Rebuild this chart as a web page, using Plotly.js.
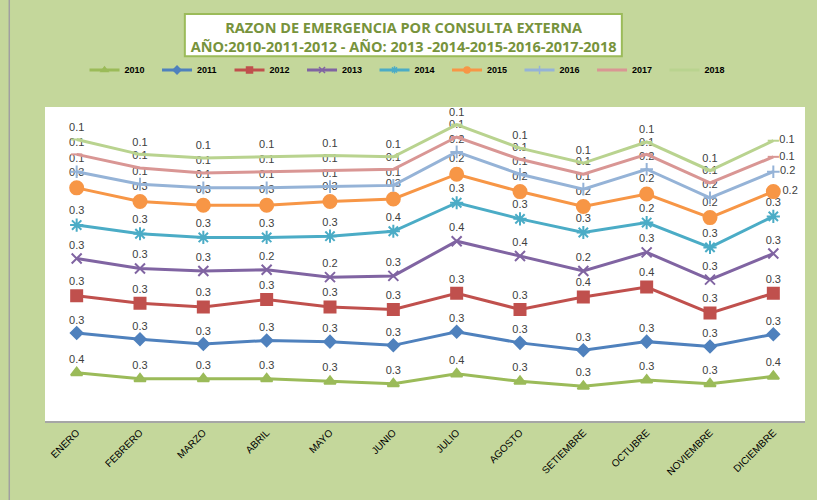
<!DOCTYPE html>
<html>
<head>
<meta charset="utf-8">
<script src="https://cdn.plot.ly/plotly-3.0.1.min.js"></script>
<style>html,body{margin:0;padding:0;background:#c4d79b;}#chart{width:817px;height:500px;}</style>
</head>
<body>
<div id="chart"></div>
<script>
const months = ["ENERO","FEBRERO","MARZO","ABRIL","MAYO","JUNIO","JULIO","AGOSTO","SETIEMBRE","OCTUBRE","NOVIEMBRE","DICIEMBRE"];
const years = ["2010","2011","2012","2013","2014","2015","2016","2017","2018"];

const v2010 = [0.39, 0.34, 0.34, 0.34, 0.32, 0.30, 0.38, 0.32, 0.28, 0.33, 0.30, 0.36];
const v2011 = [0.32, 0.32, 0.28, 0.31, 0.32, 0.31, 0.34, 0.31, 0.29, 0.31, 0.30, 0.34];
const v2012 = [0.30, 0.29, 0.30, 0.33, 0.28, 0.29, 0.31, 0.27, 0.43, 0.44, 0.27, 0.33];
const v2013 = [0.30, 0.28, 0.29, 0.24, 0.24, 0.27, 0.42, 0.43, 0.21, 0.28, 0.27, 0.32];
const v2014 = [0.27, 0.28, 0.27, 0.26, 0.33, 0.36, 0.31, 0.30, 0.31, 0.24, 0.26, 0.30];
const v2015 = [0.30, 0.26, 0.26, 0.26, 0.28, 0.26, 0.23, 0.22, 0.21, 0.23, 0.24, 0.20];
const v2016 = [0.13, 0.14, 0.14, 0.14, 0.12, 0.11, 0.18, 0.14, 0.14, 0.20, 0.16, 0.16];
const v2017 = [0.14, 0.13, 0.12, 0.13, 0.13, 0.13, 0.12, 0.12, 0.12, 0.12, 0.12, 0.12];
const v2018 = [0.12, 0.11, 0.12, 0.12, 0.12, 0.10, 0.10, 0.09, 0.09, 0.10, 0.10, 0.13];

const series = [v2010, v2011, v2012, v2013, v2014, v2015, v2016, v2017, v2018];
const colors = ["#9bbb59","#4f81bd","#c0504d","#8064a2","#4bacc6","#f79646","#95b3d7","#d99694","#b9d38f"];
const symbols = ["triangle-up","diamond","square","x-thin-open","asterisk-open","circle","cross-thin-open","line-ew-open","line-ew-open"];
const msizes = [10, 9, 11, 10, 11, 13, 9, 8, 8];

const cum = new Array(months.length).fill(0);
const traces = series.map((vals, i) => {
  const ys = vals.map((v, j) => { cum[j] += v; return cum[j]; });
  const tpos = vals.map((v, j) => (j === vals.length - 1 && i >= 5) ? "middle right" : "top center");
  return {
    type: "scatter",
    mode: "lines+markers+text",
    name: years[i],
    legendgroup: years[i],
    showlegend: false,
    x: months,
    y: ys,
    text: vals.map(v => v.toFixed(1)),
    textposition: tpos,
    textfont: {family: "Liberation Sans, Arial, sans-serif", size: 11, color: "#404040"},
    cliponaxis: false,
    line: {color: colors[i], width: 3},
    marker: {symbol: symbols[i], size: msizes[i], color: colors[i], line: {color: colors[i], width: 2}},
    hoverinfo: "name+x+text"
  };
});

// legend entries with small markers (same series, legend only)
const legendTraces = years.map((y, i) => ({
  type: "scatter",
  mode: "lines+markers",
  name: y,
  legendgroup: y,
  x: [months[0]],
  y: [null],
  line: {color: colors[i], width: 3},
  marker: {symbol: symbols[i], size: 6, color: colors[i], line: {color: colors[i], width: 1.5}},
  hoverinfo: "skip"
}));

const layout = {
  width: 817, height: 500,
  margin: {l: 45, r: 12, t: 107, b: 79},
  paper_bgcolor: "#c4d79b",
  plot_bgcolor: "#ffffff",
  title: {
    text: "<b>RAZON DE EMERGENCIA POR CONSULTA EXTERNA<br>AÑO:2010-2011-2012 - AÑO: 2013 -2014-2015-2016-2017-2018</b>",
    font: {family: "Open Sans, Liberation Sans, sans-serif", size: 14.5, color: "#77933c"},
    xref: "container", x: 0.494, xanchor: "center",
    yref: "container", y: 0.934, yanchor: "middle"
  },
  xaxis: {
    type: "category",
    range: [-0.5, 11.5],
    tickangle: -45,
    tickfont: {family: "Liberation Sans Narrow, Liberation Sans, sans-serif", size: 10, color: "#000000"},
    showline: true, linecolor: "#a6a6a6", linewidth: 2,
    showgrid: false, zeroline: false, ticks: "", fixedrange: true
  },
  yaxis: {
    range: [0, 2.532],
    showticklabels: false, showgrid: false, zeroline: false, showline: false, ticks: ""
  },
  showlegend: true,
  legend: {
    orientation: "h",
    x: 0.052, xanchor: "left",
    y: 1.118, yanchor: "middle",
    font: {family: "Liberation Sans, Arial, sans-serif", size: 9, color: "#000000", weight: "bold"},
    entrywidth: 27.5, entrywidthmode: "pixels",
    tracegroupgap: 0,
    bgcolor: "rgba(0,0,0,0)"
  },
  shapes: [
    {type: "rect", xref: "paper", yref: "paper",
     x0: 0.184, x1: 0.759, y0: 1.162, y1: 1.296,
     fillcolor: "#ffffff", line: {color: "#9bbb59", width: 2}, layer: "below"},
    {type: "line", xref: "paper", yref: "paper",
     x0: -0.047, x1: -0.047, y0: -0.26, y1: 1.35,
     line: {color: "#a0a0a0", width: 1.5}}
  ]
};

Plotly.newPlot("chart", traces.concat(legendTraces), layout, {displayModeBar: false, responsive: false});
</script>
</body>
</html>
